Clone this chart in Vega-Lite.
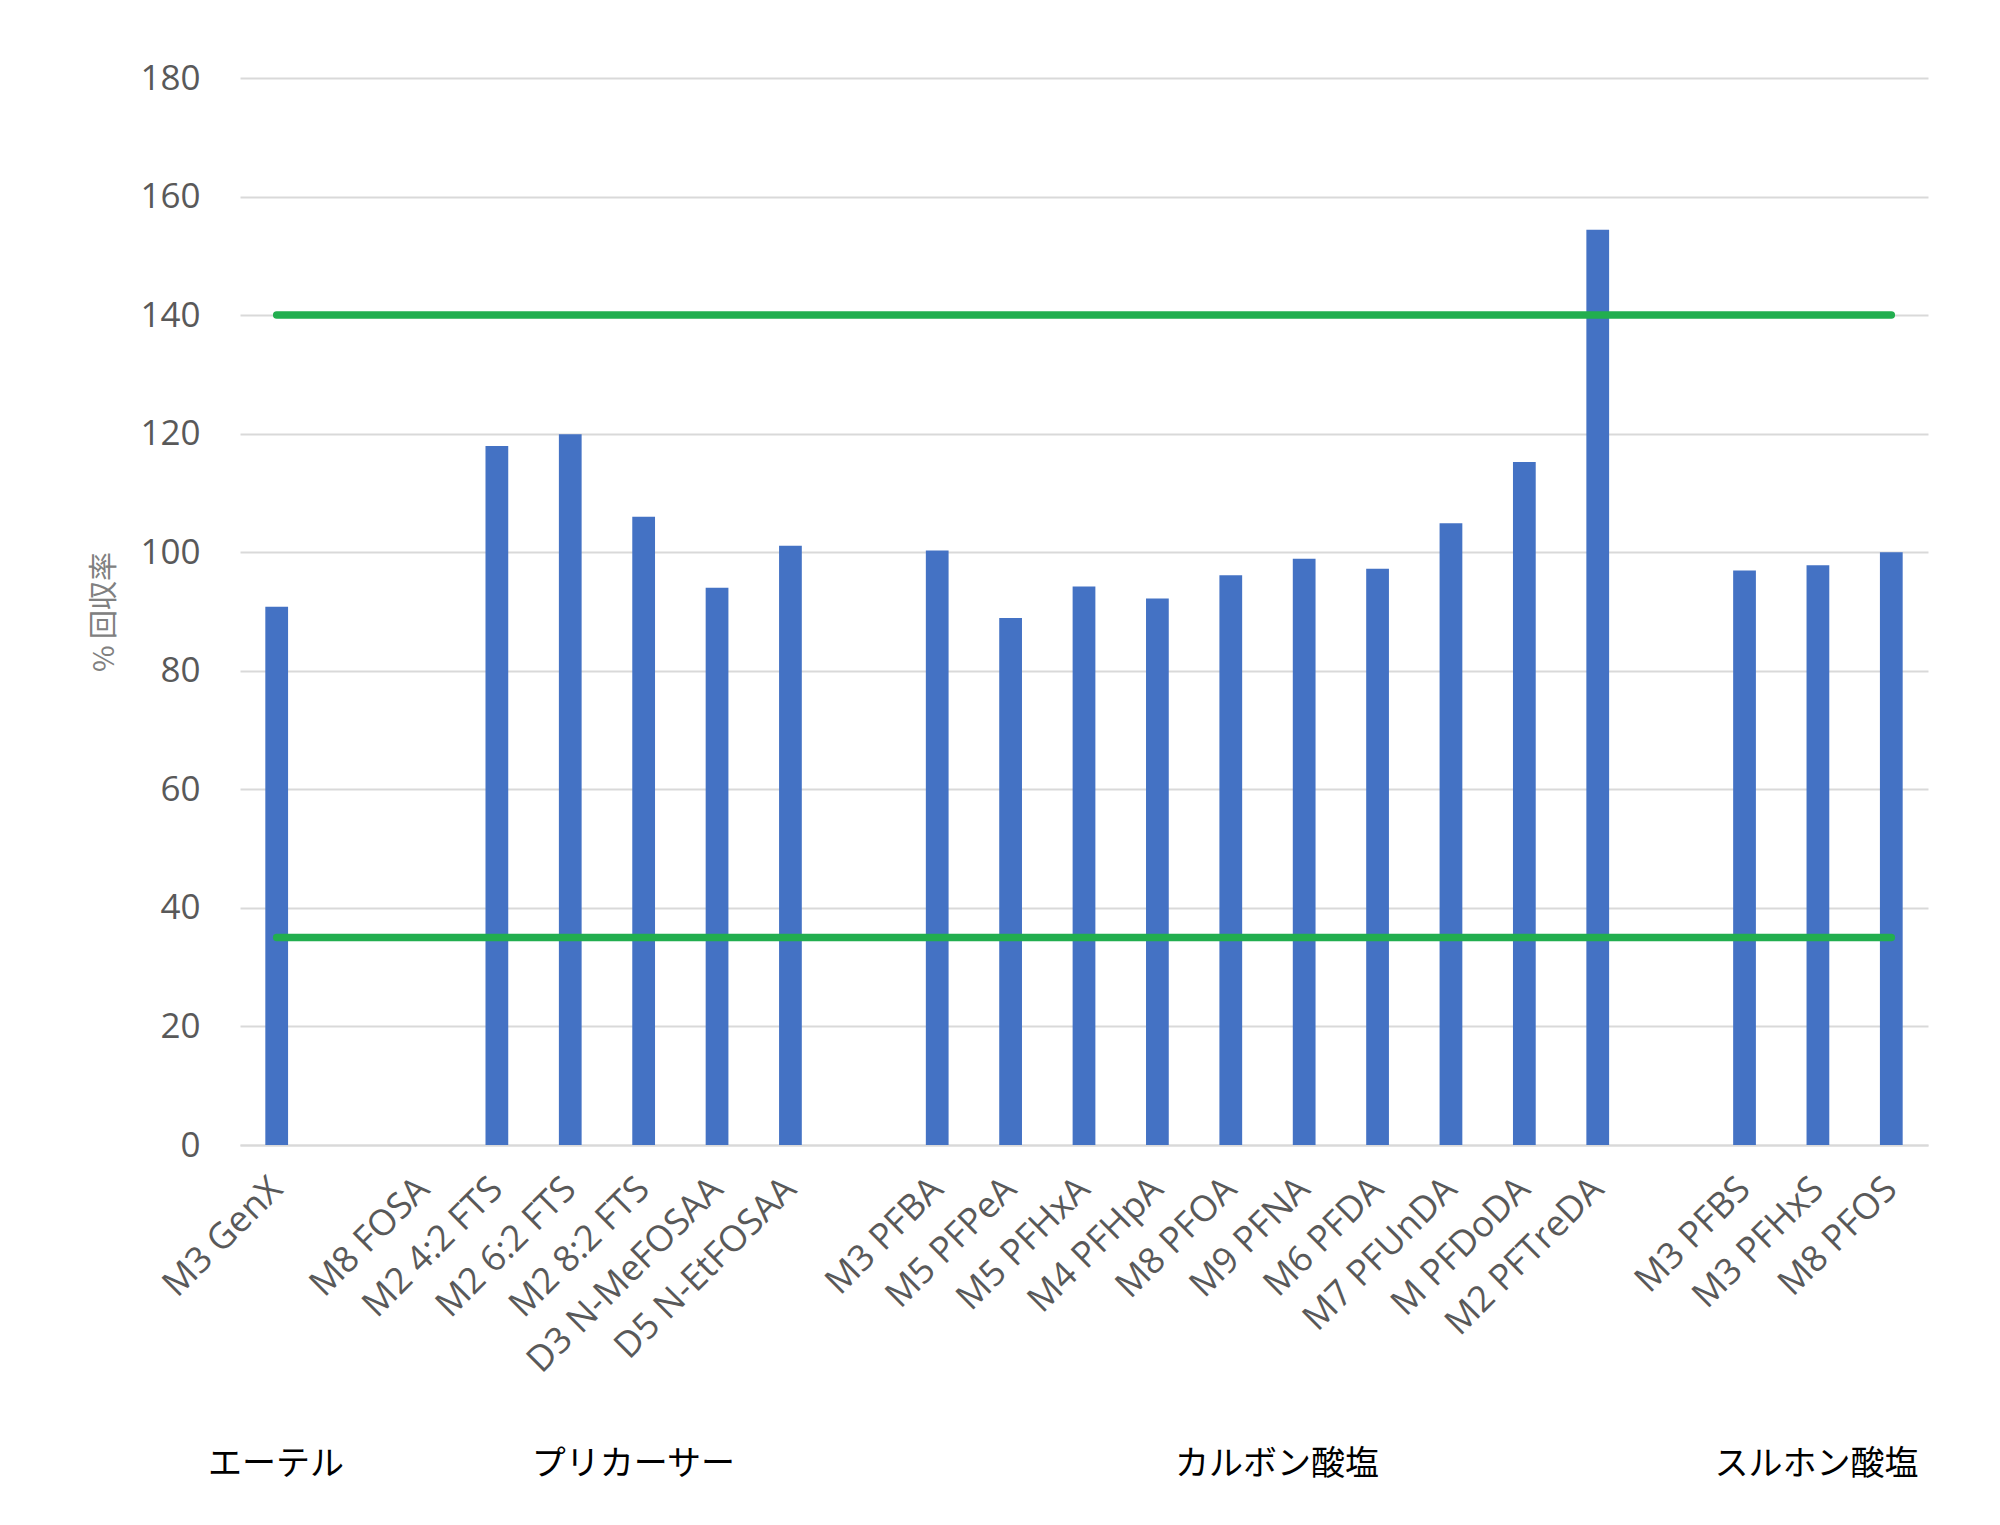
{
  "$schema": "https://vega.github.io/schema/vega-lite/v6.json",
  "width": 1688,
  "height": 1067,
  "autosize": {"type": "none"},
  "padding": {"left": 240, "top": 78, "right": 72, "bottom": 380},
  "background": "white",
  "config": {"view": {"stroke": null}, "font": "Open Sans"},
  "datasets": {
    "recovery": [
      {"compound": "M3 GenX", "group": "エーテル", "recovery": 90.8, "lower": 35, "upper": 140},
      {"compound": "M8 FOSA", "group": "プリカーサー", "recovery": null, "lower": 35, "upper": 140},
      {"compound": "M2 4:2 FTS", "group": "プリカーサー", "recovery": 117.9, "lower": 35, "upper": 140},
      {"compound": "M2 6:2 FTS", "group": "プリカーサー", "recovery": 119.9, "lower": 35, "upper": 140},
      {"compound": "M2 8:2 FTS", "group": "プリカーサー", "recovery": 106.0, "lower": 35, "upper": 140},
      {"compound": "D3 N-MeFOSAA", "group": "プリカーサー", "recovery": 94.0, "lower": 35, "upper": 140},
      {"compound": "D5 N-EtFOSAA", "group": "プリカーサー", "recovery": 101.1, "lower": 35, "upper": 140},
      {"compound": "M3 PFBA", "group": "カルボン酸塩", "recovery": 100.3, "lower": 35, "upper": 140},
      {"compound": "M5 PFPeA", "group": "カルボン酸塩", "recovery": 88.9, "lower": 35, "upper": 140},
      {"compound": "M5 PFHxA", "group": "カルボン酸塩", "recovery": 94.2, "lower": 35, "upper": 140},
      {"compound": "M4 PFHpA", "group": "カルボン酸塩", "recovery": 92.2, "lower": 35, "upper": 140},
      {"compound": "M8 PFOA", "group": "カルボン酸塩", "recovery": 96.1, "lower": 35, "upper": 140},
      {"compound": "M9 PFNA", "group": "カルボン酸塩", "recovery": 98.9, "lower": 35, "upper": 140},
      {"compound": "M6 PFDA", "group": "カルボン酸塩", "recovery": 97.2, "lower": 35, "upper": 140},
      {"compound": "M7 PFUnDA", "group": "カルボン酸塩", "recovery": 104.9, "lower": 35, "upper": 140},
      {"compound": "M PFDoDA", "group": "カルボン酸塩", "recovery": 115.2, "lower": 35, "upper": 140},
      {"compound": "M2 PFTreDA", "group": "カルボン酸塩", "recovery": 154.4, "lower": 35, "upper": 140},
      {"compound": "M3 PFBS", "group": "スルホン酸塩", "recovery": 96.9, "lower": 35, "upper": 140},
      {"compound": "M3 PFHxS", "group": "スルホン酸塩", "recovery": 97.8, "lower": 35, "upper": 140},
      {"compound": "M8 PFOS", "group": "スルホン酸塩", "recovery": 100.0, "lower": 35, "upper": 140}
    ],
    "groups": [
      {"group": "エーテル", "pos": 0.49},
      {"group": "プリカーサー", "pos": 5.36},
      {"group": "カルボン酸塩", "pos": 14.13},
      {"group": "スルホン酸塩", "pos": 21.48}
    ]
  },
  "layer": [
    {
      "data": {"name": "recovery"},
      "encoding": {
        "x": {
          "field": "compound",
          "type": "nominal",
          "sort": null,
          "scale": {
            "domain": ["M3 GenX", "gap1", "M8 FOSA", "M2 4:2 FTS", "M2 6:2 FTS", "M2 8:2 FTS", "D3 N-MeFOSAA", "D5 N-EtFOSAA", "gap2", "M3 PFBA", "M5 PFPeA", "M5 PFHxA", "M4 PFHpA", "M8 PFOA", "M9 PFNA", "M6 PFDA", "M7 PFUnDA", "M PFDoDA", "M2 PFTreDA", "gap3", "M3 PFBS", "M3 PFHxS", "M8 PFOS"],
            "paddingInner": 0,
            "paddingOuter": 0
          },
          "axis": {
            "title": null,
            "labelExpr": "indexof(datum.value, 'gap') == 0 ? '' : datum.value",
            "labelAngle": -45,
            "labelAlign": "right",
            "labelBaseline": "middle",
            "labelPadding": 38,
            "labelFontSize": 36,
            "labelColor": "#595959",
            "labelOverlap": false,
            "labelLimit": 0,
            "labelFont": "Open Sans",
            "ticks": false,
            "domainColor": "#D9D9D9",
            "domainWidth": 2,
            "grid": false
          }
        }
      },
      "layer": [
        {
          "mark": {"type": "bar", "color": "#4472C4", "width": {"band": 0.31}},
          "encoding": {
            "y": {
              "field": "recovery",
              "type": "quantitative",
              "scale": {"domain": [0, 180], "nice": false},
              "axis": {
                "title": "% 回収率",
                "titleFont": "Noto Sans CJK JP",
                "titleFontSize": 29,
                "titleFontWeight": "normal",
                "titleColor": "#808080",
                "titlePadding": 20,
                "values": [0, 20, 40, 60, 80, 100, 120, 140, 160, 180],
                "labelFontSize": 35,
                "labelColor": "#595959",
                "labelPadding": 40,
                "labelFont": "Open Sans",
                "ticks": false,
                "domain": false,
                "gridColor": "#D9D9D9",
                "gridWidth": 2
              }
            }
          }
        },
        {
          "mark": {"type": "line", "color": "#22AE4F", "strokeWidth": 7.5, "strokeCap": "round"},
          "encoding": {"y": {"field": "lower", "type": "quantitative"}}
        },
        {
          "mark": {"type": "line", "color": "#22AE4F", "strokeWidth": 7.5, "strokeCap": "round"},
          "encoding": {"y": {"field": "upper", "type": "quantitative"}}
        }
      ]
    },
    {
      "data": {"name": "groups"},
      "mark": {"type": "text", "font": "Noto Sans CJK JP", "fontSize": 34, "color": "#000000", "baseline": "middle", "align": "center", "dy": 320},
      "encoding": {
        "x": {"field": "pos", "type": "quantitative", "scale": {"domain": [0, 23], "nice": false, "zero": false}, "axis": null},
        "y": {"datum": 0, "type": "quantitative"},
        "text": {"field": "group"}
      }
    }
  ],
  "resolve": {"scale": {"x": "independent"}}
}
